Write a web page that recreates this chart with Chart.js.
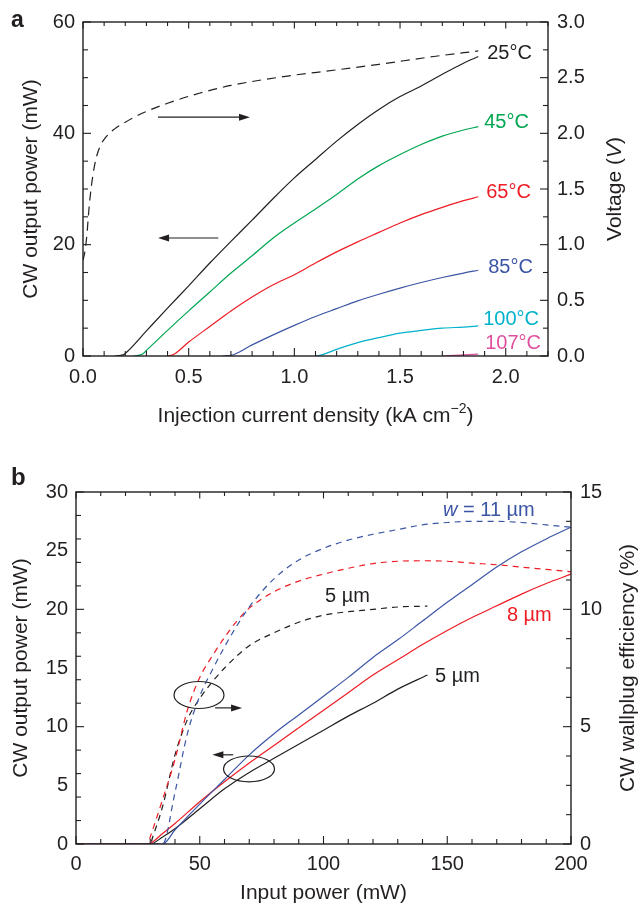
<!DOCTYPE html>
<html>
<head>
<meta charset="utf-8">
<title>CW laser characteristics</title>
<script src="https://cdn.jsdelivr.net/npm/chart.js@4.4.1/dist/chart.umd.min.js"></script>
<style>
  html, body { margin: 0; padding: 0; background: #fff; }
  body { position: relative; width: 638px; height: 904px; overflow: hidden; }
  canvas { position: absolute; left: 0; display: block; }
  #panelA { top: 0; }
  #panelB { top: 445px; }
</style>
</head>
<body>
<canvas id="panelA" width="638" height="445"></canvas>
<canvas id="panelB" width="638" height="459"></canvas>
<script>
const FONT = '"Liberation Sans", Arial, Helvetica, sans-serif';
const INK = '#231f20';
const GREEN = '#00a651';
const RED = '#ed1c24';
const BLUE = '#3b55a5';
const CYAN = '#00b2cb';
const MAGENTA = '#e0509e';

// ---- panel a: light-current and voltage-current curves ----
const aCurrentTicks = [0, 0.5, 1.0, 1.5, 2.0];
const aPowerTicks = [0, 20, 40, 60];
const aVoltTicks = [0, 0.5, 1.0, 1.5, 2.0, 2.5, 3.0];

// [current density (kA cm-2), CW output power (mW)]
const li25 = [[0.15, 0], [0.19, 0.2], [0.21, 0.8], [0.3, 4.5], [0.4, 8.6], [0.5, 12.6], [0.6, 16.7], [0.7, 20.6], [0.8, 24.4], [0.9, 28.3], [1.0, 32.0], [1.1, 35.3], [1.2, 38.6], [1.3, 41.6], [1.4, 44.3], [1.5, 46.6], [1.6, 48.5], [1.7, 50.6], [1.8, 52.6], [1.87, 53.8]];
const li45 = [[0.24, 0], [0.28, 0.3], [0.3, 1.0], [0.4, 4.6], [0.5, 8.1], [0.6, 11.5], [0.7, 14.9], [0.8, 18.0], [0.9, 21.2], [1.0, 23.9], [1.1, 26.4], [1.2, 29.0], [1.3, 31.8], [1.4, 34.2], [1.5, 36.2], [1.6, 38.0], [1.7, 39.5], [1.8, 40.6], [1.87, 41.2]];
const li65 = [[0.4, 0], [0.43, 0.3], [0.5, 2.5], [0.6, 5.3], [0.7, 8.1], [0.8, 10.6], [0.9, 12.8], [1.0, 14.6], [1.1, 16.7], [1.2, 18.7], [1.3, 20.5], [1.4, 22.2], [1.5, 23.9], [1.6, 25.4], [1.7, 26.7], [1.8, 27.9], [1.87, 28.6]];
const li85 = [[0.66, 0], [0.7, 0.1], [0.8, 2.0], [0.9, 3.8], [1.0, 5.5], [1.1, 7.1], [1.2, 8.5], [1.3, 9.9], [1.4, 11.1], [1.5, 12.2], [1.6, 13.2], [1.7, 14.1], [1.8, 14.9], [1.87, 15.4]];
const li100 = [[1.1, 0], [1.12, 0.1], [1.2, 1.2], [1.3, 2.4], [1.4, 3.3], [1.5, 4.1], [1.6, 4.6], [1.7, 5.0], [1.8, 5.2], [1.87, 5.4]];
const li107 = [[1.7, 0], [1.8, 0.2], [1.87, 0.35]];
// [current density (kA cm-2), voltage (V)] at 25 °C
const iv25 = [[0, 0.86], [0.01, 0.95], [0.02, 1.12], [0.025, 1.25], [0.035, 1.45], [0.045, 1.6], [0.06, 1.76], [0.08, 1.88], [0.11, 1.97], [0.15, 2.04], [0.2, 2.1], [0.28, 2.18], [0.4, 2.27], [0.55, 2.36], [0.7, 2.43], [0.95, 2.51], [1.2, 2.57], [1.4, 2.62], [1.66, 2.69], [1.87, 2.74]];

// ---- panel b: output power and wallplug efficiency vs input power ----
const bInputTicks = [0, 50, 100, 150, 200];
const bPowerTicks = [0, 5, 10, 15, 20, 25, 30];
const bEffTicks = [0, 5, 10, 15];

// [input power (mW), CW output power (mW)]
const out11 = [[0, 0], [35, 0], [40, 1.2], [50, 3.4], [60, 5.5], [70, 7.6], [80, 9.4], [90, 11.0], [100, 12.6], [110, 14.2], [120, 15.9], [130, 17.4], [140, 19.0], [150, 20.6], [160, 22.1], [170, 23.6], [180, 24.9], [190, 26.0], [200, 27.0]];
const out8 = [[0, 0], [29, 0], [35, 0.9], [40, 1.75], [50, 3.6], [60, 5.3], [70, 6.9], [80, 8.4], [90, 9.9], [100, 11.4], [110, 12.9], [120, 14.4], [130, 15.7], [140, 17.0], [150, 18.2], [160, 19.3], [170, 20.3], [180, 21.3], [190, 22.2], [200, 23.0]];
const out5 = [[0, 0], [30, 0], [35, 0.6], [40, 1.3], [50, 3.0], [60, 4.7], [70, 6.1], [80, 7.3], [90, 8.5], [100, 9.7], [110, 10.9], [120, 12.0], [130, 13.2], [142, 14.4]];
// [input power (mW), wallplug efficiency (%)]
const eff11 = [[0, 0], [35, 0], [40, 2.2], [45, 4.7], [50, 6.3], [55, 7.4], [60, 8.4], [65, 9.3], [70, 10.1], [80, 11.3], [90, 12.1], [100, 12.6], [110, 12.95], [120, 13.2], [130, 13.4], [140, 13.6], [150, 13.7], [160, 13.75], [170, 13.75], [180, 13.7], [190, 13.6], [200, 13.5]];
const eff8 = [[0, 0], [29, 0], [30, 0.3], [35, 1.9], [40, 3.6], [45, 5.7], [50, 7.1], [55, 8.0], [60, 8.8], [65, 9.5], [70, 10.05], [80, 10.75], [90, 11.2], [100, 11.5], [110, 11.75], [120, 11.95], [130, 12.05], [140, 12.07], [150, 12.05], [160, 11.97], [170, 11.9], [180, 11.8], [190, 11.7], [200, 11.6]];
const eff5 = [[0, 0], [30, 0], [31, 0.3], [35, 1.6], [40, 3.8], [45, 5.3], [50, 6.2], [55, 6.9], [60, 7.5], [70, 8.45], [80, 9.0], [90, 9.45], [100, 9.75], [110, 9.9], [120, 10.0], [130, 10.1], [142, 10.14]];

const pts = (pairs) => pairs.map(([x, y]) => ({ x, y }));
const tickFont = { family: FONT, size: 20, lineHeight: 1 };
const titleFont = { family: FONT, size: 21, lineHeight: 1 };

function axis({ position, min, max, ticks, size, pad, fmt, title }) {
  const horizontal = position === 'bottom';
  return {
    type: 'linear',
    position,
    min,
    max,
    grid: { display: false, drawTicks: false },
    border: { display: false },
    afterBuildTicks: (s) => { s.ticks = ticks.map((value) => ({ value })); },
    afterFit: (s) => {
      if (horizontal) s.height = size;
      else s.width = size;
    },
    ticks: {
      font: tickFont, color: INK, padding: pad, autoSkip: false, maxRotation: 0, callback: fmt,
    },
    title: title
      ? {
        display: true, text: title.text, font: titleFont, color: INK, padding: title.padding,
      }
      : { display: false },
  };
}

// text made of runs: 'n' normal, 'i' italic, 's' superscript
function rich(ctx, parts, x, y, size, color, rot = 0, align = 'left') {
  ctx.save();
  ctx.translate(x, y);
  ctx.rotate(rot);
  ctx.fillStyle = color;
  ctx.textBaseline = 'middle';
  ctx.textAlign = 'left';
  const fontOf = (st) => `${st === 'i' ? 'italic ' : ''}${st === 's' ? Math.round(size * 0.68) : size}px ${FONT}`;
  const widths = parts.map(([t, st]) => {
    ctx.font = fontOf(st);
    return ctx.measureText(t).width;
  });
  const total = widths.reduce((a, b) => a + b, 0);
  let cx = align === 'center' ? -total / 2 : 0;
  parts.forEach(([t, st], i) => {
    ctx.font = fontOf(st);
    ctx.fillText(t, cx, st === 's' ? -size * 0.35 : 0);
    cx += widths[i];
  });
  ctx.restore();
}

function arrow(ctx, x0, x1, y) {
  const dir = Math.sign(x1 - x0);
  ctx.beginPath();
  ctx.moveTo(x0, y);
  ctx.lineTo(x1 - dir * 8, y);
  ctx.stroke();
  ctx.beginPath();
  ctx.moveTo(x1, y);
  ctx.lineTo(x1 - dir * 11, y - 3.5);
  ctx.lineTo(x1 - dir * 11, y + 3.5);
  ctx.closePath();
  ctx.fill();
}

// frame, inward tick marks, curve tags, arrows, ellipses and extra titles
function decorations(cfg) {
  return {
    id: 'decorations',
    afterDatasetsDraw(chart) {
      const { ctx } = chart;
      const sx = chart.scales.x;
      const sy = chart.scales.y;
      ctx.save();
      ctx.strokeStyle = INK;
      ctx.fillStyle = INK;
      ctx.lineWidth = 1.2;
      (cfg.ellipses || []).forEach(([cx, cy, rx, ry]) => {
        const px = sx.getPixelForValue(cx);
        const py = sy.getPixelForValue(cy);
        ctx.beginPath();
        ctx.ellipse(px, py, sx.getPixelForValue(cx + rx) - px, py - sy.getPixelForValue(cy + ry), 0, 0, Math.PI * 2);
        ctx.stroke();
      });
      (cfg.arrows || []).forEach(([x0, x1, y]) => {
        arrow(ctx, sx.getPixelForValue(x0), sx.getPixelForValue(x1), sy.getPixelForValue(y));
      });
      (cfg.labels || []).forEach(({ parts, x, y, color }) => {
        rich(ctx, parts, sx.getPixelForValue(x), sy.getPixelForValue(y), 20, color);
      });
      chart.data.datasets.forEach((ds) => {
        if (!ds.tag) return;
        const last = ds.data[ds.data.length - 1];
        const s = chart.scales[ds.yAxisID || 'y'];
        rich(ctx, [[ds.tag, 'n']], sx.getPixelForValue(last.x) + ds.tagAt[0],
          s.getPixelForValue(last.y) + ds.tagAt[1], 20, ds.borderColor);
      });
      ctx.restore();
    },
    afterDraw(chart) {
      const { ctx, chartArea: a } = chart;
      ctx.save();
      ctx.strokeStyle = INK;
      ctx.lineWidth = 1.4;
      ctx.strokeRect(a.left, a.top, a.right - a.left, a.bottom - a.top);
      ctx.lineWidth = 1.1;
      cfg.marks.forEach(({ id, sides, step, major }) => {
        const s = chart.scales[id];
        const n = Math.round((s.max - s.min) / step);
        for (let i = 0; i <= n; i += 1) {
          const v = s.min + i * step;
          const len = Math.abs(v / major - Math.round(v / major)) < 1e-6 ? 8 : 5;
          const p = s.getPixelForValue(v);
          sides.forEach((side) => {
            ctx.beginPath();
            if (side === 'bottom') { ctx.moveTo(p, a.bottom); ctx.lineTo(p, a.bottom - len); }
            if (side === 'top') { ctx.moveTo(p, a.top); ctx.lineTo(p, a.top + len * 0.8); }
            if (side === 'left') { ctx.moveTo(a.left, p); ctx.lineTo(a.left + len, p); }
            if (side === 'right') { ctx.moveTo(a.right, p); ctx.lineTo(a.right - len, p); }
            ctx.stroke();
          });
        }
      });
      cfg.titles(a).forEach(({ parts, x, y, rot }) => rich(ctx, parts, x, y, 21, INK, rot, 'center'));
      ctx.fillStyle = INK;
      ctx.font = `bold ${cfg.letter.size}px ${FONT}`;
      ctx.textBaseline = 'alphabetic';
      ctx.fillText(cfg.letter.text, cfg.letter.x, cfg.letter.y);
      ctx.restore();
    },
  };
}

const common = {
  responsive: false,
  animation: false,
  events: [],
  plugins: { legend: { display: false }, tooltip: { enabled: false } },
  datasets: {
    line: {
      pointRadius: 0, borderWidth: 1.2, cubicInterpolationMode: 'monotone', fill: false,
    },
  },
};

new Chart(document.getElementById('panelA'), {
  type: 'line',
  data: {
    datasets: [
      { data: pts(iv25), yAxisID: 'y2', borderColor: INK, borderDash: [9, 6] },
      { data: pts(li25), yAxisID: 'y', borderColor: INK, tag: '25°C', tagAt: [9, -3.5] },
      { data: pts(li45), yAxisID: 'y', borderColor: GREEN, tag: '45°C', tagAt: [6, -4.5] },
      { data: pts(li65), yAxisID: 'y', borderColor: RED, tag: '65°C', tagAt: [8, -4] },
      { data: pts(li85), yAxisID: 'y', borderColor: BLUE, tag: '85°C', tagAt: [10, -3] },
      { data: pts(li100), yAxisID: 'y', borderColor: CYAN, tag: '100°C', tagAt: [5, -6] },
      { data: pts(li107), yAxisID: 'y', borderColor: MAGENTA, tag: '107°C', tagAt: [7, -11] },
    ],
  },
  options: {
    ...common,
    layout: { padding: { top: 22, left: 0, right: 0, bottom: 0 } },
    scales: {
      x: axis({
        position: 'bottom', min: 0, max: 2.2, ticks: aCurrentTicks, size: 89, pad: 11, fmt: (v) => v.toFixed(1),
      }),
      y: axis({
        position: 'left', min: 0, max: 60, ticks: aPowerTicks, size: 83, pad: 8, fmt: (v) => String(v),
        title: { text: 'CW output power (mW)', padding: { top: 20.5, bottom: 0 } },
      }),
      y2: axis({
        position: 'right', min: 0, max: 3, ticks: aVoltTicks, size: 90, pad: 9, fmt: (v) => v.toFixed(1),
      }),
    },
  },
  plugins: [decorations({
    marks: [
      { id: 'x', sides: ['bottom', 'top'], step: 0.1, major: 0.5 },
      { id: 'y', sides: ['left'], step: 5, major: 20 },
      { id: 'y2', sides: ['right'], step: 0.25, major: 0.5 },
    ],
    arrows: [[0.355, 0.79, 42.9], [0.64, 0.355, 21.2]],
    titles: (a) => [
      { parts: [['Injection current density (kA cm', 'n'], ['−2', 's'], [')', 'n']], x: (a.left + a.right) / 2, y: a.bottom + 60, rot: 0 },
      { parts: [['Voltage (', 'n'], ['V', 'i'], [')', 'n']], x: a.right + 67, y: (a.top + a.bottom) / 2, rot: -Math.PI / 2 },
    ],
    letter: { text: 'a', x: 11, y: 27, size: 23 },
  })],
});

new Chart(document.getElementById('panelB'), {
  type: 'line',
  data: {
    datasets: [
      { data: pts(eff11), yAxisID: 'y2', borderColor: BLUE, borderDash: [6, 5] },
      { data: pts(eff8), yAxisID: 'y2', borderColor: RED, borderDash: [6, 5] },
      { data: pts(eff5), yAxisID: 'y2', borderColor: INK, borderDash: [6, 5] },
      { data: pts(out11), yAxisID: 'y', borderColor: BLUE },
      { data: pts(out8), yAxisID: 'y', borderColor: RED },
      { data: pts(out5), yAxisID: 'y', borderColor: INK },
    ],
  },
  options: {
    ...common,
    layout: { padding: { top: 47, left: 0, right: 0, bottom: 0 } },
    scales: {
      x: axis({
        position: 'bottom', min: 0, max: 200, ticks: bInputTicks, size: 60, pad: 10, fmt: (v) => String(v),
        title: { text: 'Input power (mW)', padding: { top: 0, bottom: 0.5 } },
      }),
      y: axis({
        position: 'left', min: 0, max: 30, ticks: bPowerTicks, size: 76, pad: 8, fmt: (v) => String(v),
        title: { text: 'CW output power (mW)', padding: { top: 10.5, bottom: 0 } },
      }),
      y2: axis({
        position: 'right', min: 0, max: 15, ticks: bEffTicks, size: 67, pad: 9, fmt: (v) => String(v),
      }),
    },
  },
  plugins: [decorations({
    marks: [
      { id: 'x', sides: ['bottom', 'top'], step: 10, major: 50 },
      { id: 'y', sides: ['left'], step: 2, major: 10 },
      { id: 'y2', sides: ['right'], step: 1.25, major: 5 },
    ],
    ellipses: [[49.7, 12.7, 10.1, 1.15], [69.9, 6.4, 10.3, 1.1]],
    arrows: [[56.2, 67.1, 11.6], [63.5, 55.1, 7.6]],
    labels: [
      { parts: [['w', 'i'], [' = 11 µm', 'n']], x: 148.3, y: 28.4, color: BLUE },
      { parts: [['5 µm', 'n']], x: 100.6, y: 21.1, color: INK },
      { parts: [['8 µm', 'n']], x: 174.1, y: 19.5, color: RED },
      { parts: [['5 µm', 'n']], x: 145.1, y: 14.3, color: INK },
    ],
    titles: (a) => [
      { parts: [['CW wallplug efficiency (%)', 'n']], x: a.right + 57, y: (a.top + a.bottom) / 2, rot: -Math.PI / 2 },
    ],
    letter: { text: 'b', x: 11, y: 40, size: 24 },
  })],
});
</script>
</body>
</html>
